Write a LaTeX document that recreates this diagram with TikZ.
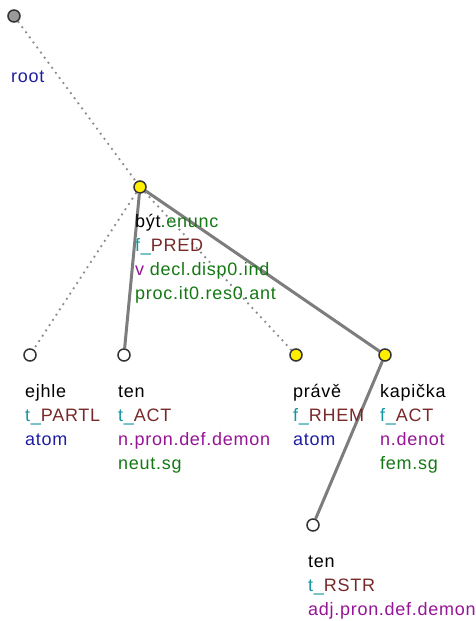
\documentclass[tikz,border=0pt]{standalone}
\usepackage{fontspec}
\usetikzlibrary{backgrounds}
\setmainfont{Liberation Sans}[LetterSpace=4]
\definecolor{tprefix}{RGB}{20,150,160}
\definecolor{functor}{RGB}{120,40,40}
\definecolor{gram}{RGB}{150,20,150}
\definecolor{gramg}{RGB}{20,120,20}
\definecolor{atomc}{RGB}{30,30,160}
\definecolor{edgegray}{RGB}{125,125,125}
\definecolor{yel}{RGB}{255,240,0}
\begin{document}
\begin{tikzpicture}[x=1pt,y=-1pt,
  tnode/.style={circle,draw=black!80,line width=1.5pt,inner sep=0pt,minimum size=12pt},
  wnode/.style={tnode,fill=white},
  ynode/.style={tnode,fill=yel},
  gnode/.style={tnode,fill=black!40},
  solidedge/.style={draw=edgegray,line width=3pt},
  dotedge/.style={draw=edgegray!90,line width=1.8pt,dash pattern=on 1.8pt off 4.5pt},
  lbl/.style={anchor=base west,inner sep=0pt,font=\fontsize{18}{24}\selectfont,align=left}
]
\useasboundingbox (0,0) rectangle (475,621);
\node[gnode] (root) at (14,16) {};
\node[ynode] (byt) at (140,187) {};
\node[wnode] (ejhle) at (30,355) {};
\node[wnode] (ten) at (124,355) {};
\node[ynode] (prave) at (296,355) {};
\node[ynode] (kapicka) at (385,355) {};
\node[wnode] (tenb) at (313,525) {};

\begin{scope}[on background layer]
\draw[dotedge] (root) -- (byt);
\draw[dotedge] (byt) -- (ejhle);
\draw[dotedge] (byt) -- (prave);
\draw[solidedge] (byt) -- (ten);
\draw[solidedge] (byt) -- (kapicka);
\draw[solidedge] (kapicka) -- (tenb);
\end{scope}

\node[lbl] (lroot) at (11,82) {\textcolor{atomc}{root}};
\node[lbl] (lbyt) at (135,299) {být\textcolor{gramg}{.enunc}\\
  \textcolor{tprefix}{f\_}\textcolor{functor}{PRED}\\
  \textcolor{gram}{v} \textcolor{gramg}{decl.disp0.ind}\\
  \textcolor{gramg}{proc.it0.res0.ant}};
\node[lbl] (lejhle) at (25,445) {ejhle\\
  \textcolor{tprefix}{t\_}\textcolor{functor}{PARTL}\\
  \textcolor{atomc}{atom}};
\node[lbl] (lten) at (118,469) {ten\\
  \textcolor{tprefix}{t\_}\textcolor{functor}{ACT}\\
  \textcolor{gram}{n.pron.def.demon}\\
  \textcolor{gramg}{neut.sg}};
\node[lbl] (lprave) at (293,445) {právě\\
  \textcolor{tprefix}{f\_}\textcolor{functor}{RHEM}\\
  \textcolor{atomc}{atom}};
\node[lbl] (lkapicka) at (380,469) {kapička\\
  \textcolor{tprefix}{f\_}\textcolor{functor}{ACT}\\
  \textcolor{gram}{n.denot}\\
  \textcolor{gramg}{fem.sg}};
\node[lbl] (ltenb) at (308,615) {ten\\
  \textcolor{tprefix}{t\_}\textcolor{functor}{RSTR}\\
  \textcolor{gram}{adj.pron.def.demon}};
\end{tikzpicture}
\end{document}
